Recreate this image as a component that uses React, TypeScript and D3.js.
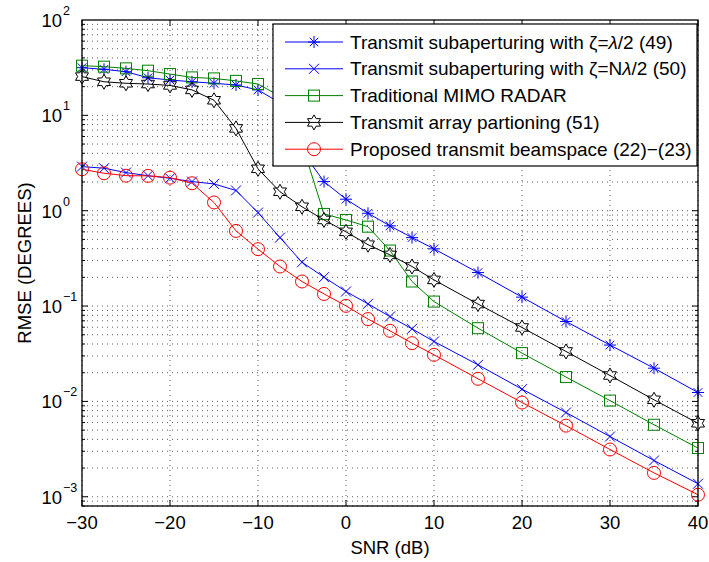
import React from "react";
import * as d3 from "d3";

const snr = [-30, -27.5, -25, -22.5, -20, -17.5, -15, -12.5, -10, -7.5, -5, -2.5, 0, 2.5, 5, 7.5, 10, 15, 20, 25, 30, 35, 40];

const subapHalf = [31.6, 30.4, 28.7, 24.8, 23.5, 22.5, 21.7, 20.8, 18.5, 13.5, 4.2, 2.02, 1.32, 0.94, 0.693, 0.522, 0.398, 0.2245, 0.124, 0.0689, 0.039, 0.0223, 0.0124];
const subapN = [2.9, 2.79, 2.51, 2.33, 2.19, 2.02, 1.91, 1.63, 0.955, 0.522, 0.288, 0.201, 0.142, 0.1055, 0.0776, 0.0577, 0.0425, 0.0242, 0.01345, 0.00765, 0.00428, 0.0024, 0.00137];
const mimo = [33.2, 32.4, 31.1, 29.4, 27.1, 25.0, 24.4, 23.0, 21.3, 15.9, 5.0, 0.925, 0.8, 0.68, 0.382, 0.181, 0.1114, 0.0586, 0.0321, 0.018, 0.0102, 0.00569, 0.00324];
const partition = [25.5, 22.5, 21.7, 21.3, 20.6, 18.5, 14.4, 7.3, 2.75, 1.58, 1.1, 0.8, 0.6, 0.44, 0.344, 0.26, 0.188, 0.105, 0.0596, 0.0334, 0.0187, 0.0104, 0.0059];
const proposed = [2.72, 2.47, 2.33, 2.32, 2.22, 1.94, 1.22, 0.614, 0.395, 0.26, 0.181, 0.134, 0.1005, 0.073, 0.055, 0.0408, 0.0308, 0.01726, 0.00973, 0.00557, 0.00313, 0.00178, 0.00105];

const xTicks = [-30, -20, -10, 0, 10, 20, 30, 40];
const yExponents = [-3, -2, -1, 0, 1, 2];
const seriesLabels = [
  "Transmit subaperturing with \u03B6=|\u03BB|/2 (49)",
  "Transmit subaperturing with \u03B6=N|\u03BB|/2 (50)",
  "Traditional MIMO RADAR",
  "Transmit array partioning (51)",
  "Proposed transmit beamspace (22)\u2212(23)",
];
const xLabel = "SNR (dB)";
const yLabel = "RMSE (DEGREES)";

const series = [
  { values: subapHalf, color: "#0000ff", marker: "asterisk" },
  { values: subapN, color: "#0000ff", marker: "x" },
  { values: mimo, color: "#008000", marker: "square" },
  { values: partition, color: "#000000", marker: "hexagram" },
  { values: proposed, color: "#ff0000", marker: "circle" },
];

const L = 82, R = 698, T = 20, B = 506;
const FONT = "'Liberation Sans', Arial, Helvetica, sans-serif";

function hexagramPath(r: number) {
  const pts: string[] = [];
  for (let i = 0; i < 12; i++) {
    const a = -Math.PI / 2 + (i * Math.PI) / 6;
    const rr = i % 2 === 0 ? r : r / Math.sqrt(3);
    pts.push(`${(rr * Math.cos(a)).toFixed(2)},${(rr * Math.sin(a)).toFixed(2)}`);
  }
  return "M" + pts.join("L") + "Z";
}

function Marker({ type, cx, cy, color }: { type: string; cx: number; cy: number; color: string }) {
  const common = { fill: "none", stroke: color, strokeWidth: 1 };
  if (type === "asterisk") {
    const r = 6, d = r * 0.72;
    return (
      <g {...common} transform={`translate(${cx},${cy})`}>
        <line x1={-r} y1={0} x2={r} y2={0} />
        <line x1={0} y1={-r} x2={0} y2={r} />
        <line x1={-d} y1={-d} x2={d} y2={d} />
        <line x1={-d} y1={d} x2={d} y2={-d} />
      </g>
    );
  }
  if (type === "x") {
    const d = 5;
    return (
      <g {...common} transform={`translate(${cx},${cy})`}>
        <line x1={-d} y1={-d} x2={d} y2={d} />
        <line x1={-d} y1={d} x2={d} y2={-d} />
      </g>
    );
  }
  if (type === "square") {
    const s = 5.5;
    return <rect {...common} x={cx - s} y={cy - s} width={2 * s} height={2 * s} />;
  }
  if (type === "hexagram") {
    return <path {...common} transform={`translate(${cx},${cy})`} d={hexagramPath(7.5)} />;
  }
  return <circle {...common} cx={cx} cy={cy} r={6.5} />;
}

function LegendText({ text, x, y }: { text: string; x: number; y: number }) {
  const parts = text.split("|");
  return (
    <text x={x} y={y} fontFamily={FONT} fontSize={19} fill="#000">
      {parts.map((p, i) => (
        <tspan key={i} fontStyle={i % 2 === 1 ? "italic" : "normal"}>{p}</tspan>
      ))}
    </text>
  );
}

export default function App() {
  const x = d3.scaleLinear().domain([-30, 40]).range([L, R]);
  const y = d3.scaleLog().domain([8e-4, 100]).range([B, T]);

  const minor: number[] = [];
  for (let n = -4; n <= 1; n++) {
    for (let k = 1; k <= 9; k++) {
      const v = k * Math.pow(10, n);
      if (v >= 8e-4 - 1e-12 && v <= 100 + 1e-9) minor.push(v);
    }
  }
  const major = yExponents.map((e) => Math.pow(10, e));

  const line = d3
    .line<number>()
    .x((_, i) => x(snr[i]))
    .y((v) => y(v));

  const legendX = 273, legendY = 24, legendW = 424, legendH = 142;
  const rowY = (i: number) => 42 + i * 26.8;

  return (
    <svg
      width={709}
      height={562}
      style={{ position: "absolute", left: 0, top: 0, background: "#fff" }}
    >
      <rect x={0} y={0} width={709} height={562} fill="#fff" />
      {/* grid */}
      <g stroke="#333" strokeWidth={0.8} strokeDasharray="1 4">
        {minor.map((v, i) => (
          <line key={"hg" + i} x1={L} x2={R} y1={y(v)} y2={y(v)} />
        ))}
        {xTicks.map((v, i) => (
          <line key={"vg" + i} x1={x(v)} x2={x(v)} y1={T} y2={B} />
        ))}
      </g>
      {/* ticks */}
      <g stroke="#000" strokeWidth={1}>
        {minor.map((v, i) => {
          const isMajor = major.some((m) => Math.abs(m - v) < 1e-12);
          const len = isMajor ? 6 : 3;
          return (
            <g key={"yt" + i}>
              <line x1={L} x2={L + len} y1={y(v)} y2={y(v)} />
              <line x1={R} x2={R - len} y1={y(v)} y2={y(v)} />
            </g>
          );
        })}
        {xTicks.map((v, i) => (
          <g key={"xt" + i}>
            <line x1={x(v)} x2={x(v)} y1={B} y2={B - 6} />
            <line x1={x(v)} x2={x(v)} y1={T} y2={T + 6} />
          </g>
        ))}
      </g>
      {/* series */}
      {series.map((s, si) => (
        <g key={"s" + si}>
          <path d={line(s.values) || ""} fill="none" stroke={s.color} strokeWidth={1} />
          {s.values.map((v, i) => (
            <Marker key={i} type={s.marker} cx={x(snr[i])} cy={y(v)} color={s.color} />
          ))}
        </g>
      ))}
      {/* axes box */}
      <rect x={L} y={T} width={R - L} height={B - T} fill="none" stroke="#000" strokeWidth={1.3} />
      {/* tick labels */}
      <g fontFamily={FONT} fill="#000">
        {xTicks.map((v, i) => (
          <text key={"xl" + i} x={x(v)} y={529} fontSize={18.5} textAnchor="middle">
            {v < 0 ? "\u2212" + Math.abs(v) : String(v)}
          </text>
        ))}
        {yExponents.map((e, i) => (
          <g key={"yl" + i}>
            <text x={62} y={y(Math.pow(10, e)) + 7} fontSize={18.5} textAnchor="end">10</text>
            <text x={63} y={y(Math.pow(10, e)) - 5} fontSize={12.5}>
              {e < 0 ? "\u2212" + Math.abs(e) : String(e)}
            </text>
          </g>
        ))}
        <text x={(L + R) / 2} y={554} fontSize={18.5} textAnchor="middle">{xLabel}</text>
        <text transform={`translate(31,${(T + B) / 2}) rotate(-90)`} fontSize={18.5} textAnchor="middle">{yLabel}</text>
      </g>
      {/* legend */}
      <g>
        <rect x={legendX} y={legendY} width={legendW} height={legendH} fill="#fff" stroke="#000" strokeWidth={1.2} />
        {series.map((s, i) => (
          <g key={"lg" + i}>
            <line x1={285} x2={343} y1={rowY(i)} y2={rowY(i)} stroke={s.color} strokeWidth={1} />
            <Marker type={s.marker} cx={314} cy={rowY(i)} color={s.color} />
            <LegendText text={seriesLabels[i]} x={350} y={rowY(i) + 6.5} />
          </g>
        ))}
      </g>
    </svg>
  );
}
